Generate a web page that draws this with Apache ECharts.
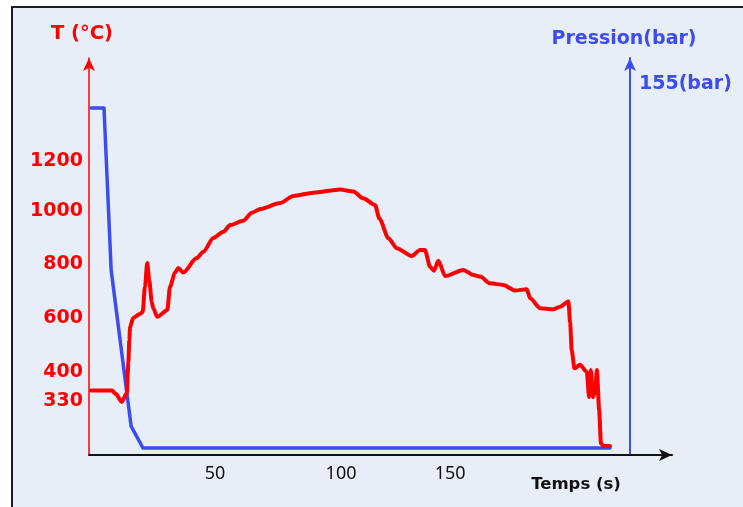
<!DOCTYPE html>
<html>
<head>
<meta charset="utf-8">
<script src="https://cdn.jsdelivr.net/npm/echarts@6/dist/echarts.min.js"></script>
<style>
  html, body { margin: 0; padding: 0; background: #ffffff; width: 743px; height: 507px; overflow: hidden; }
  #frame { position: absolute; left: 11px; top: 6px; width: 760px; height: 520px; background: #e8eef8;
           border-left: 2px solid #1e1e1e; border-top: 2px solid #1e1e1e; }
  #chart { position: absolute; left: 0; top: 0; width: 743px; height: 507px; }
</style>
</head>
<body>
<div id="frame"></div>
<div id="chart"></div>
<script>
// Temperature curve (time s, T °C)
const tempTime = [0.8, 9.1, 10.7, 13.0, 15.0, 15.6, 16.0, 16.3, 17.5, 20.2, 21.3, 22.2, 23.1, 23.9, 24.9, 25.5, 27.1, 31.1, 32.1, 34.1, 35.4, 37.4, 42.7, 45.4, 49.3, 53.3, 56.0, 61.2, 64.6, 67.9, 75.8, 81.1, 89.0, 99.6, 104.9, 108.8, 113.5, 115.2, 118.8, 122.1, 128.1, 131.3, 133.3, 135.3, 136.9, 138.6, 141.3, 148.5, 152.5, 155.2, 159.1, 164.4, 169.0, 173.7, 175.0, 179.0, 184.2, 186.9, 190.2, 190.9, 191.5, 192.6, 194.8, 197.5, 198.4, 199.1, 199.9, 200.8, 201.5, 202.4, 203.1, 204.1, 206.7];
const tempValues = [330, 330, 317, 288, 321, 433, 519, 567, 601, 616, 623, 717, 806, 742, 660, 637, 605, 631, 716, 769, 787, 770, 824, 848, 899, 922, 947, 963, 993, 1007, 1029, 1056, 1068, 1080, 1072, 1047, 1022, 972, 898, 861, 832, 854, 854, 792, 777, 814, 757, 780, 761, 755, 730, 724, 703, 708, 674, 637, 633, 643, 662, 582, 481, 413, 426, 400, 306, 407, 306, 325, 407, 258, 134, 124, 124];
// Pressure curve (time s, P bar)
const pressTime = [0.8, 5.95, 8.8, 16.7, 21.4, 206.7];
const pressValues = [155, 155, 81, 10, 0, 0];
// Tick labels
const xTickLabels = [50, 100, 150];
const tTickLabels = [330, 400, 600, 800, 1000, 1200];
const pTickLabels = [155];

const RED = '#ff0000';
const BLUE = '#3a4cf2';

const tempData = tempTime.map((t, i) => [t, tempValues[i]]);
const pressData = pressTime.map((t, i) => [t, pressValues[i]]);

const chart = echarts.init(document.getElementById('chart'), null, { renderer: 'canvas' });
chart.setOption({
  backgroundColor: 'transparent',
  animation: false,
  grid: { left: 89, right: 71, top: 58, bottom: 52, containLabel: false, outerBoundsMode: 'none' },
  xAxis: {
    type: 'value', min: 0, max: 231.3,
    name: 'Temps (s)', nameLocation: 'end', nameGap: -96,
    nameTextStyle: { fontFamily: 'DejaVu Sans', fontWeight: 'bold', fontSize: 16.5, color: '#111',
                     align: 'center', verticalAlign: 'top', padding: [21, 0, 0, 0] },
    axisLine: { onZero: false, lineStyle: { color: '#111', width: 2 }, symbol: ['none', 'arrow'], symbolSize: [9, 13] },
    axisTick: { show: false },
    splitLine: { show: false },
    axisLabel: {
      customValues: xTickLabels, margin: 10,
      formatter: v => (v === 150 ? '{s|' + v + '}' : '{n|' + v + '}'),
      rich: {
        n: { fontFamily: 'Noto Sans', fontSize: 18, color: '#111' },
        s: { fontFamily: 'Noto Sans', fontSize: 18, color: '#111', padding: [0, 34, 0, 0] }
      }
    }
  },
  yAxis: [
    {
      type: 'value', min: 90, max: 1570, position: 'left',
      name: 'T (°C)', nameLocation: 'end', nameGap: 14,
      nameTextStyle: { fontFamily: 'DejaVu Sans', fontWeight: 'bold', fontSize: 19.5, color: RED, padding: [0, 14, 0, 0] },
      axisLine: { show: true, onZero: false, lineStyle: { color: RED, width: 1.5 }, symbol: ['none', 'arrow'], symbolSize: [9, 13] },
      axisTick: { show: false },
      splitLine: { show: false },
      axisLabel: {
        customValues: tTickLabels, margin: 6,
        formatter: v => (v === 330 ? '{d|' + v + '}' : v === 1200 ? '{u|' + v + '}' : '{n|' + v + '}'),
        rich: {
          n: { fontFamily: 'DejaVu Sans', fontWeight: 'bold', fontSize: 19, color: RED },
          d: { fontFamily: 'DejaVu Sans', fontWeight: 'bold', fontSize: 19, color: RED, padding: [20, 0, 0, 0] },
          u: { fontFamily: 'DejaVu Sans', fontWeight: 'bold', fontSize: 19, color: RED, padding: [8, 0, 0, 0] }
        }
      }
    },
    {
      type: 'value', min: -3.2, max: 177.8, position: 'right', offset: -42,
      name: 'Pression(bar)', nameLocation: 'end', nameGap: 9,
      nameTextStyle: { fontFamily: 'DejaVu Sans', fontWeight: 'bold', fontSize: 19, color: BLUE, padding: [0, 12, 0, 0] },
      axisLine: { show: true, onZero: false, lineStyle: { color: BLUE, width: 2 }, symbol: ['none', 'arrow'], symbolSize: [9, 13] },
      axisTick: { show: false },
      splitLine: { show: false },
      axisLabel: {
        customValues: pTickLabels, margin: 9,
        formatter: v => '{p|' + v + '(bar)}',
        rich: {
          p: { fontFamily: 'DejaVu Sans', fontWeight: 'bold', fontSize: 19, color: BLUE, padding: [0, 0, 48, 0] }
        }
      }
    }
  ],
  series: [
    {
      type: 'line', name: 'T', xAxisIndex: 0, yAxisIndex: 0, data: tempData,
      showSymbol: false, smooth: 0.25, smoothMonotone: 'x',
      lineStyle: { color: RED, width: 4, cap: 'round', join: 'round' }, z: 3
    },
    {
      type: 'line', name: 'P', xAxisIndex: 0, yAxisIndex: 1, data: pressData,
      showSymbol: false,
      lineStyle: { color: BLUE, width: 3.5, cap: 'round', join: 'round' }, z: 2
    }
  ]
});
</script>
</body>
</html>
